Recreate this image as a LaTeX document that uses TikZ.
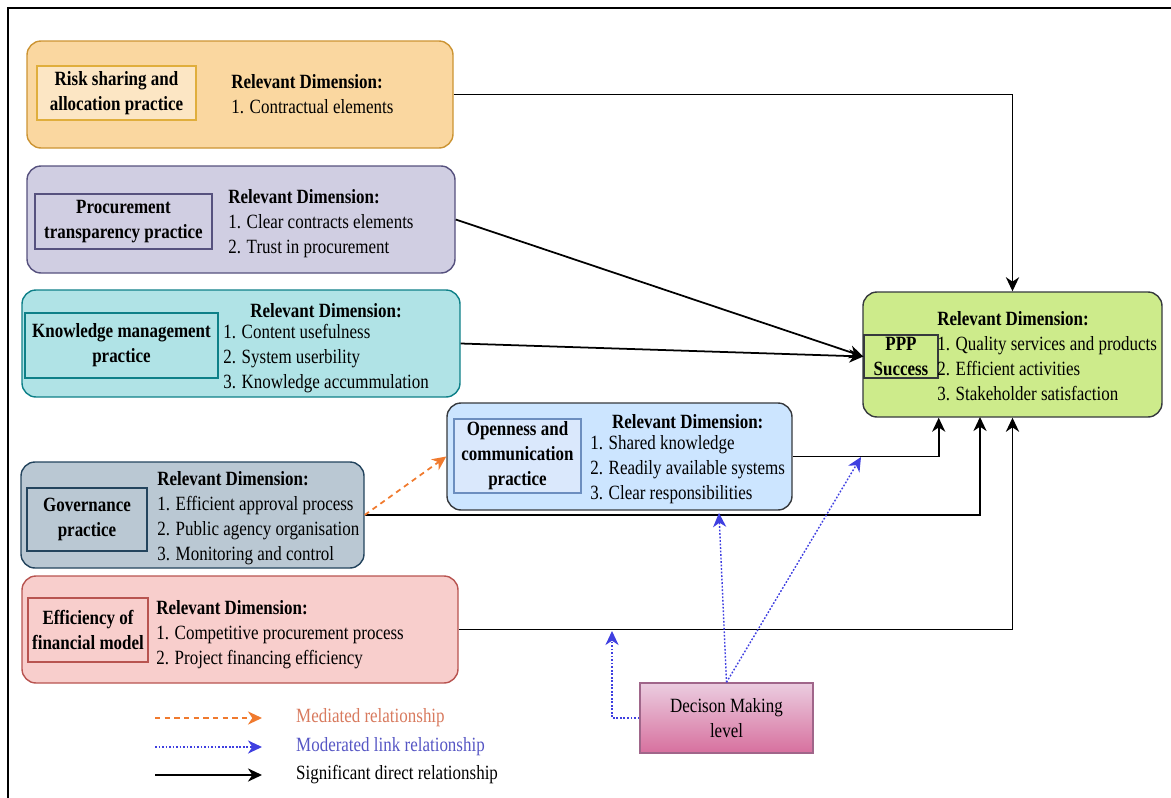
\documentclass[tikz,border=0pt]{standalone}
\usepackage{fontspec}
\setmainfont[FakeStretch=0.84]{Liberation Serif}
\usetikzlibrary{arrows.meta,positioning}

\definecolor{riskfill}{HTML}{FAD7A0}
\definecolor{riskline}{HTML}{CC9433}
\definecolor{riskin}{HTML}{FCE6C4}
\definecolor{riskinline}{HTML}{E0AE3C}
\definecolor{procfill}{HTML}{D0CEE2}
\definecolor{procline}{HTML}{56517E}
\definecolor{knowfill}{HTML}{B0E3E6}
\definecolor{knowline}{HTML}{0E8088}
\definecolor{govfill}{HTML}{BAC8D3}
\definecolor{govline}{HTML}{23445D}
\definecolor{efffill}{HTML}{F8CECC}
\definecolor{effline}{HTML}{B85450}
\definecolor{openfill}{HTML}{CCE5FF}
\definecolor{openin}{HTML}{DAE8FC}
\definecolor{openinline}{HTML}{6C8EBF}
\definecolor{pppfill}{HTML}{CDEB8B}
\definecolor{darkline}{HTML}{36393D}
\definecolor{dectop}{HTML}{EBCDE0}
\definecolor{decbot}{HTML}{D7709E}
\definecolor{decline}{HTML}{A0668A}
\definecolor{medorange}{HTML}{F07A2E}
\definecolor{medtext}{HTML}{D87A5E}
\definecolor{modblue}{HTML}{3F3FE0}
\definecolor{modtext}{HTML}{5656C4}

\newlength\pxu
\setlength\pxu{0.02cm}
\newcommand{\dimfont}{\fontsize{11.5}{14.2}\selectfont}

\begin{document}
\begin{tikzpicture}[
    x=0.02cm, y=-0.02cm,
    outer/.style={draw, rounded corners=8pt, line width=0.8pt, inner sep=0pt},
    practice/.style={draw, line width=0.8pt, inner sep=0pt, align=center, font=\dimfont\bfseries},
    dim/.style={align=left, inner sep=0pt, font=\dimfont},
    hdr/.style={inner sep=0pt, font=\dimfont\bfseries},
    direct/.style={->, line width=1pt},
    mediated/.style={->, dash pattern=on 3pt off 2.5pt, medorange, line width=1pt},
    moderated/.style={->, dash pattern=on 1pt off 1pt, modblue, line width=0.8pt},
    >={Stealth[length=8pt,width=7.5pt,inset=2.5pt]}
]
\useasboundingbox (0,0) rectangle (1171,798);

% frame
\draw[line width=1.2pt] (8,798) -- (8,8) -- (1171,8);

% practices (text anchored at baseline of last line)
\node[outer, fill=riskfill, draw=riskline, minimum width=426*\pxu, minimum height=107*\pxu] (risk) at (240,94.5) {};
\node[practice, fill=riskin, draw=riskinline, minimum width=159*\pxu, minimum height=54*\pxu] (riskp) at (116.5,93) {Risk sharing and\\allocation practice};
\node[dim, anchor=base west] (riskd) at (231,113) {\textbf{Relevant Dimension:}\\1. Contractual elements};

\node[outer, fill=procfill, draw=procline, minimum width=428*\pxu, minimum height=107*\pxu] (proc) at (241,219.5) {};
\node[practice, fill=procfill, draw=procline, minimum width=177*\pxu, minimum height=55*\pxu] (procp) at (123.5,221.5) {Procurement\\transparency practice};
\node[dim, anchor=base west] (procd) at (228,253) {\textbf{Relevant Dimension:}\\1. Clear contracts elements\\2. Trust in procurement};

\node[outer, fill=knowfill, draw=knowline, minimum width=438*\pxu, minimum height=107*\pxu] (know) at (241,343.5) {};
\node[practice, fill=knowfill, draw=knowline, minimum width=193*\pxu, minimum height=65*\pxu] (knowp) at (121.5,345.5) {Knowledge management\\practice};
\node[dim, anchor=base west] (knowd) at (223,388) {1. Content usefulness\\2. System userbility\\3. Knowledge accummulation};
\node[hdr, above=3pt of knowd] (knowh) {Relevant Dimension:};

\node[outer, fill=govfill, draw=govline, minimum width=343*\pxu, minimum height=106*\pxu] (gov) at (192.5,515) {};
\node[practice, fill=govfill, draw=govline, minimum width=120*\pxu, minimum height=63*\pxu] (govp) at (87,519.5) {Governance\\practice};
\node[dim, anchor=base west] (govd) at (157,560) {\textbf{Relevant Dimension:}\\1. Efficient approval process\\2. Public agency organisation\\3. Monitoring and control};

\node[outer, fill=efffill, draw=effline, minimum width=436*\pxu, minimum height=107*\pxu] (eff) at (240,629.5) {};
\node[practice, fill=efffill, draw=effline, minimum width=120*\pxu, minimum height=64*\pxu] (effp) at (88,630) {Efficiency of\\financial model};
\node[dim, anchor=base west] (effd) at (156,664) {\textbf{Relevant Dimension:}\\1. Competitive procurement process\\2. Project financing efficiency};

\node[outer, fill=openfill, draw=darkline, minimum width=345*\pxu, minimum height=107*\pxu] (open) at (619.5,456.5) {};
\node[practice, fill=openin, draw=openinline, minimum width=127*\pxu, minimum height=74*\pxu] (openp) at (517.5,456) {Openness and\\communication\\practice};
\node[dim, anchor=base west] (opend) at (590,499) {1. Shared knowledge\\2. Readily available systems\\3. Clear responsibilities};
\node[hdr, above=3pt of opend] (openh) {Relevant Dimension:};

% outcome
\node[outer, fill=pppfill, draw=darkline, minimum width=299*\pxu, minimum height=125*\pxu] (ppp) at (1012.5,354.5) {};
\node[practice, fill=pppfill, draw=darkline, minimum width=74*\pxu, minimum height=43*\pxu] (pppp) at (901,356.5) {PPP\\Success};
\node[dim, anchor=base west] (pppd) at (937,400) {\textbf{Relevant Dimension:}\\1. Quality services and products\\2. Efficient activities\\3. Stakeholder satisfaction};

% moderator
\node[draw=decline, line width=0.8pt, top color=dectop, bottom color=decbot, minimum width=173*\pxu, minimum height=70*\pxu, align=center, font=\dimfont] (dec) at (726.5,718) {Decison Making\\level};

% direct links
\draw[direct] (risk.east) -| (ppp.north);
\draw[direct] (proc.east) -- (pppp.west);
\draw[direct] (know.east) -- (pppp.west);
\draw[direct] (open.east) -| (pppp.east |- ppp.south);
\coordinate (govin) at (980,417);
\draw[direct] (gov.east) -| (govin);
\draw[direct] (eff.east) -| (ppp.south);

% mediated link
\draw[mediated] (gov.east) -- (open.west);

% moderated links
\coordinate (modopen) at (719,513);
\coordinate (modppp) at (861,457);
\coordinate (modeff) at (612,631);
\draw[moderated] (dec.north) -- (modopen);
\draw[moderated] (dec.north) -- (modppp);
\draw[moderated] (dec.west) -| (modeff);

% legend
\node[anchor=west, font=\dimfont, text=medtext] (lgmed) at (290,718) {Mediated relationship};
\node[anchor=west, font=\dimfont, text=modtext] (lgmod) at (290,747) {Moderated link relationship};
\node[anchor=west, font=\dimfont] (lgdir) at (290,775) {Significant direct relationship};
\coordinate (lgmeda) at (155,718);
\coordinate (lgmedb) at (262,718);
\coordinate (lgmoda) at (155,747);
\coordinate (lgmodb) at (262,747);
\coordinate (lgdira) at (155,775);
\coordinate (lgdirb) at (262,775);
\draw[mediated] (lgmeda) -- (lgmedb);
\draw[moderated] (lgmoda) -- (lgmodb);
\draw[direct] (lgdira) -- (lgdirb);

\end{tikzpicture}
\end{document}
